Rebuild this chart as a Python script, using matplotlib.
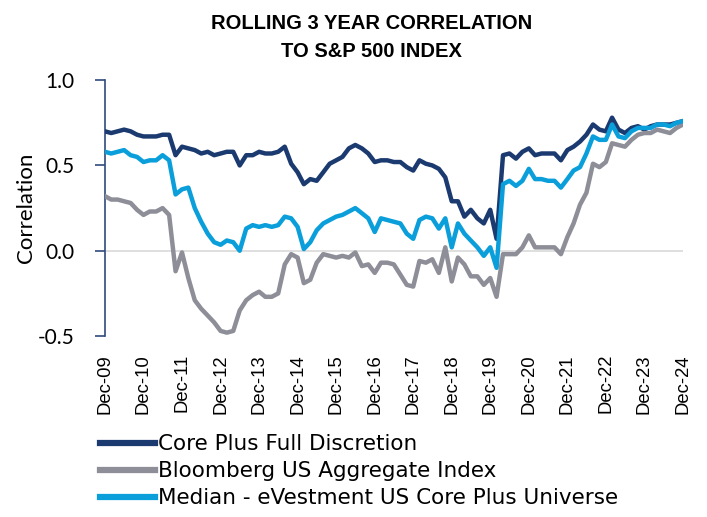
import matplotlib
matplotlib.use("Agg")
import matplotlib.pyplot as plt
import matplotlib.dates as mdates
import pandas as pd

# bi-monthly points, Dec-09 .. Dec-24
DATES = pd.date_range("2009-12-31", periods=91, freq="2ME")

CORE_PLUS = [
    0.70, 0.69, 0.70, 0.71, 0.70, 0.68, 0.67, 0.67, 0.67, 0.68, 0.68, 0.56, 0.61, 0.60, 0.59, 0.57, 0.58, 0.56, 0.57, 0.58, 0.58, 0.50, 0.56,
    0.56, 0.58, 0.57, 0.57, 0.58, 0.61, 0.51, 0.46, 0.39, 0.42, 0.41, 0.46, 0.51, 0.53, 0.55, 0.60, 0.62, 0.60, 0.57, 0.52, 0.53, 0.53,
    0.52, 0.52, 0.49, 0.47, 0.53, 0.51, 0.50, 0.48, 0.43, 0.29, 0.29, 0.20, 0.24, 0.19, 0.16, 0.24, 0.07, 0.56, 0.57, 0.54, 0.58, 0.60, 0.56,
    0.57, 0.57, 0.57, 0.53, 0.59, 0.61, 0.64, 0.68, 0.74, 0.71, 0.70, 0.78, 0.71, 0.69, 0.72, 0.73, 0.71, 0.73, 0.74, 0.74, 0.74, 0.75, 0.76,
]
BBG_AGG = [
    0.32, 0.30, 0.30, 0.29, 0.28, 0.24, 0.21, 0.23, 0.23, 0.25, 0.21, -0.12, -0.01, -0.16, -0.29, -0.34, -0.38, -0.42, -0.47, -0.48, -0.47, -0.35, -0.29,
    -0.26, -0.24, -0.27, -0.27, -0.25, -0.08, -0.02, -0.04, -0.19, -0.17, -0.07, -0.02, -0.03, -0.04, -0.03, -0.04, -0.01, -0.09, -0.08, -0.13, -0.07, -0.07,
    -0.08, -0.14, -0.20, -0.21, -0.06, -0.07, -0.05, -0.13, 0.02, -0.18, -0.04, -0.08, -0.15, -0.15, -0.20, -0.16, -0.27, -0.02, -0.02, -0.02, 0.02, 0.09, 0.02,
    0.02, 0.02, 0.02, -0.02, 0.08, 0.16, 0.27, 0.34, 0.51, 0.49, 0.52, 0.63, 0.62, 0.61, 0.65, 0.68, 0.69, 0.69, 0.71, 0.70, 0.69, 0.72, 0.74,
]
MEDIAN = [
    0.58, 0.57, 0.58, 0.59, 0.56, 0.55, 0.52, 0.53, 0.53, 0.56, 0.53, 0.33, 0.36, 0.37, 0.25, 0.17, 0.10, 0.05, 0.035, 0.06, 0.05, 0.00, 0.13,
    0.15, 0.14, 0.15, 0.14, 0.15, 0.20, 0.19, 0.14, 0.01, 0.05, 0.12, 0.16, 0.18, 0.20, 0.21, 0.23, 0.25, 0.22, 0.19, 0.11, 0.19, 0.18,
    0.17, 0.16, 0.10, 0.07, 0.18, 0.20, 0.19, 0.13, 0.19, 0.02, 0.16, 0.10, 0.06, 0.02, -0.03, 0.02, -0.10, 0.39, 0.41, 0.38, 0.41, 0.48, 0.42,
    0.42, 0.41, 0.41, 0.37, 0.42, 0.47, 0.49, 0.57, 0.67, 0.65, 0.65, 0.74, 0.67, 0.66, 0.70, 0.72, 0.72, 0.72, 0.74, 0.74, 0.73, 0.75, 0.76,
]

SERIES = [
    ("Core Plus Full Discretion", CORE_PLUS, "#1b3a70"),
    ("Bloomberg US Aggregate Index", BBG_AGG, "#8d8e97"),
    ("Median - eVestment US Core Plus Universe", MEDIAN, "#0a9fdb"),
]

fig = plt.figure(figsize=(7.07, 5.17), dpi=100)
ax = fig.add_axes([0.1485, 0.350, 0.8175, 0.495])

ax.axhline(0, color="#d9d9d9", lw=1.2, zorder=1)
for label, vals, color in SERIES:
    ax.plot(DATES, vals, color=color, lw=3.2, label=label, zorder=3,
            solid_joinstyle="round")

ax.set_xlim(DATES[0], DATES[-1])
ax.set_ylim(-0.5, 1.0)
ax.set_yticks([-0.5, 0.0, 0.5, 1.0])
ax.set_yticklabels(["-0.5", "0.0", "0.5", "1.0"], fontsize=15, family="Lato")

ticks = pd.date_range("2009-12-31", "2024-12-31", freq="12ME")
ax.set_xticks(ticks)
ax.xaxis.set_major_formatter(mdates.DateFormatter("%b-%y"))
plt.setp(ax.get_xticklabels(), rotation=90, fontsize=13.3, family="Liberation Sans")
ax.tick_params(axis="x", length=0, pad=13)
ax.tick_params(axis="y", length=7, width=1.2, color="#2f4b7c", pad=15, direction="out")

for s in ["top", "right", "bottom"]:
    ax.spines[s].set_visible(False)
ax.spines["left"].set_color("#2f4b7c")
ax.spines["left"].set_linewidth(1.2)

ax.set_ylabel("Correlation", fontsize=16, family="Lato", labelpad=1)

# title, two centred lines
fig.text(0.526, 0.9439, "ROLLING 3 YEAR CORRELATION", ha="center", va="baseline",
         fontsize=14.5, fontweight="bold", family="Liberation Sans")
fig.text(0.526, 0.8897, "TO S&P 500 INDEX", ha="center", va="baseline",
         fontsize=14.5, fontweight="bold", family="Liberation Sans")

fig.legend(loc="upper left", bbox_to_anchor=(0.1414, 0.160), frameon=False,
           borderaxespad=0, borderpad=0,
           handlelength=2.55, handletextpad=0.14, labelspacing=0.33,
           prop={"family": "DejaVu Sans", "size": 15.5})
for line in fig.legends[0].get_lines():
    line.set_linewidth(4.5)

fig.savefig("out.png", dpi=100)
